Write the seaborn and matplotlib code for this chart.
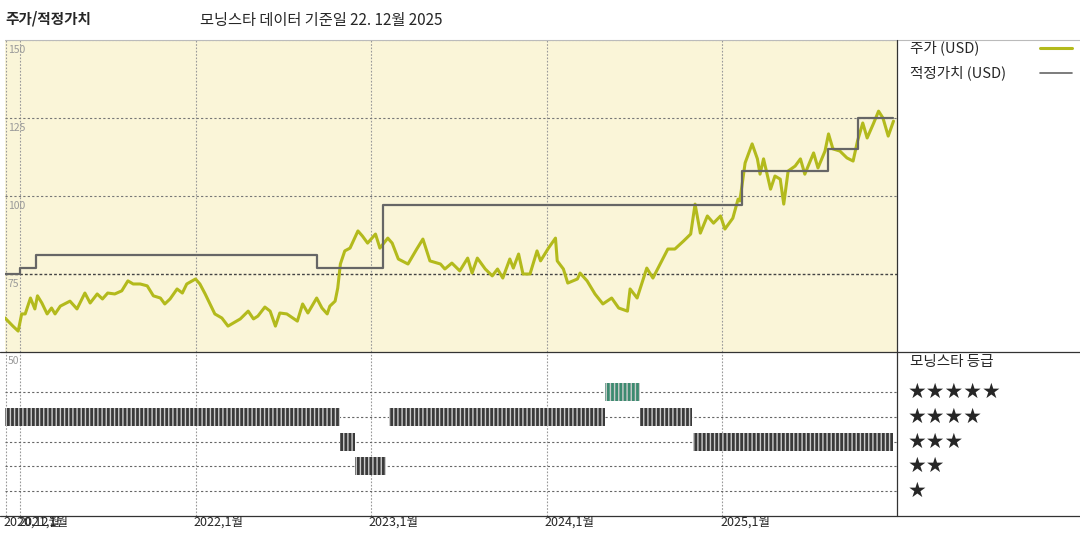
import matplotlib
matplotlib.use("Agg")
import matplotlib.pyplot as plt
import seaborn as sns
import pandas as pd
import numpy as np
from matplotlib.lines import Line2D
import matplotlib.transforms as mtrans

sns.set_style("white")
plt.rcParams['font.family'] = ['Noto Sans CJK KR', 'DejaVu Sans']

price_t = [2020.915,2020.96,2020.99,2021.01,2021.03,2021.06,2021.085,2021.10,2021.125,2021.155,2021.18,2021.20,2021.23,2021.285,2021.325,2021.37,2021.40,2021.44,2021.47,2021.50,2021.54,2021.58,2021.615,2021.645,2021.685,2021.725,2021.76,2021.80,2021.825,2021.855,2021.895,2021.925,2021.95,2022.00,2022.025,2022.055,2022.08,2022.11,2022.15,2022.185,2022.215,2022.255,2022.30,2022.33,2022.355,2022.395,2022.425,2022.455,2022.48,2022.52,2022.58,2022.61,2022.64,2022.69,2022.72,2022.75,2022.765,2022.795,2022.81,2022.825,2022.85,2022.88,2022.925,2022.95,2022.98,2023.025,2023.05,2023.095,2023.12,2023.155,2023.21,2023.26,2023.295,2023.335,2023.395,2023.42,2023.46,2023.505,2023.55,2023.575,2023.605,2023.65,2023.69,2023.72,2023.75,2023.79,2023.81,2023.84,2023.865,2023.905,2023.945,2023.965,2024.01,2024.05,2024.06,2024.095,2024.12,2024.175,2024.19,2024.23,2024.275,2024.32,2024.37,2024.41,2024.46,2024.475,2024.515,2024.57,2024.605,2024.655,2024.69,2024.73,2024.78,2024.82,2024.845,2024.875,2024.915,2024.95,2024.99,2025.015,2025.06,2025.09,2025.10,2025.13,2025.17,2025.20,2025.215,2025.235,2025.275,2025.30,2025.33,2025.35,2025.375,2025.415,2025.445,2025.47,2025.52,2025.545,2025.585,2025.605,2025.63,2025.67,2025.71,2025.745,2025.77,2025.80,2025.825,2025.86,2025.89,2025.915,2025.945,2025.975]
price_v = [60.9,58.3,56.7,62.2,62.2,67.3,63.8,68.0,65.7,62.2,64.1,62.2,64.7,66.3,63.8,68.9,65.7,68.6,67.0,68.9,68.6,69.6,72.8,71.8,71.8,71.2,68.0,67.3,65.4,67.0,70.2,68.9,71.8,73.4,71.8,68.6,65.7,62.2,60.9,58.3,59.3,60.6,63.1,60.6,61.5,64.4,63.1,58.3,62.5,62.2,59.9,65.4,62.5,67.3,64.1,62.2,64.7,66.3,70.5,78.2,82.4,83.3,88.8,87.2,84.9,87.8,83.3,86.5,84.9,79.8,78.2,83.0,86.2,79.2,78.2,76.6,78.5,76.0,80.1,75.3,80.1,76.6,74.4,76.6,73.7,79.8,76.9,81.4,75.0,75.0,82.4,79.2,83.3,86.5,79.2,76.6,72.1,73.4,75.3,72.8,68.6,65.4,67.3,64.1,63.1,70.2,67.3,76.9,73.7,79.2,83.0,83.0,85.6,87.8,97.4,88.1,93.6,91.3,93.6,89.4,92.9,99.0,98.4,110.6,116.7,111.9,107.0,111.9,102.2,106.4,105.4,97.4,108.0,109.6,111.9,107.0,113.8,109.0,114.4,119.9,115.1,114.4,112.2,111.2,117.6,123.4,118.6,123.1,127.2,125.0,119.2,124.0]

fv_t = [2020.915,2021.0,2021.09,2022.69,2023.07,2025.11,2025.60,2025.775,2025.975]
fv_v = [75.1,77,81,77,97,108,115,125,125]

rating_start = [2020.915,2022.825,2022.91,2023.088,2023.10,2024.33,2024.53,2024.835]
rating_end   = [2022.825,2022.91,2023.085,2023.092,2024.33,2024.53,2024.83,2025.975]
rating_star  = [4,3,2,3,4,5,4,3]

year_ticks = [2022,2023,2024,2025]
year_labels = ["2022,1월","2023,1월","2024,1월","2025,1월"]

W, H = 1080, 540
fig = plt.figure(figsize=(10.8,5.4), dpi=100)
L, R = 5/W, 897/W
ax = fig.add_axes([L, 1-352/H, R-L, (352-40)/H])
ax2 = fig.add_axes([L, 1-516/H, R-L, (516-352)/H])
xmin, xmax = 2020.915, 2025.995
ax.set_facecolor('#faf5d8')
for a in (ax, ax2):
    a.set_xlim(xmin, xmax)
    a.set_xticks([]); a.set_yticks([])
    for s in a.spines.values():
        s.set_visible(False)
    for xt in [2021.0]+year_ticks:
        a.axvline(xt, color='#999999', ls=(0,(1.5,1.5)), lw=0.8)
    a.axvline(xmin+0.003, color='#999999', ls=(0,(1.5,1.5)), lw=0.8)
ax.set_ylim(50,150)
for yv in [100,125]:
    ax.axhline(yv, color='#777777', ls=(0,(2,2)), lw=0.8)
ax.axhline(75, color='#444444', ls=(0,(2,1.5)), lw=1.0)
ax.axhline(150, color='#999999', ls=(0,(1.5,1.5)), lw=0.8)

df = pd.DataFrame({'t':price_t,'v':price_v})
sns.lineplot(data=df, x='t', y='v', ax=ax, color='#b3ba1c', lw=2.2)
ax.step(fv_t, fv_v, where='post', color='#666666', lw=1.6)
ax.set_xlabel(''); ax.set_ylabel('')
tr = mtrans.blended_transform_factory(ax.transAxes, ax.transData)
for yv, lab in [(150,'150'),(125,'125'),(100,'100'),(75,'75')]:
    ax.text(0.003, yv-1.5, lab, transform=tr, fontsize=7.5, color='#999999', va='top', ha='left')

ax2.set_ylim(0, 6.62)
for r in [1,2,3,4,5]:
    ax2.axhline(r, color='#666666', ls=(0,(2,2)), lw=0.8)
for s0, s1, st in zip(rating_start, rating_end, rating_star):
    col = '#3d8a70' if st == 5 else '#3a3a3a'
    ax2.barh(st, s1-s0, left=s0, height=0.73, color=col, edgecolor='#cccccc',
             hatch='||||', lw=0, zorder=3)
ax2.text(0.003, 6.45, '50', transform=ax2.get_yaxis_transform(), fontsize=7.5, color='#999999', va='top')

# frame lines
def fl(x0,y0,x1,y1,c='#333333',lw=0.9):
    fig.add_artist(Line2D([x0/W,x1/W],[1-y0/H,1-y1/H], color=c, lw=lw))
fl(5,40,1080,40,'#bbbbbb',0.8)
fl(0,352,1080,352,'#333333',0.9)
fl(897,40,897,516)
fl(0,516,1080,516)

fig.text(5/W, 1-18/H, '주가/적정가치', fontsize=10.5, fontweight='bold', va='center')
fig.text(200/W, 1-20/H, '모닝스타 데이터 기준일 22. 12월 2025', fontsize=11, va='center')
fig.text(910/W, 1-48/H, '주가 (USD)', fontsize=10.5, va='center')
fig.text(910/W, 1-73/H, '적정가치 (USD)', fontsize=10.5, va='center')
fl(1040,48,1072,48,'#b3ba1c',2.2)
fl(1040,73,1072,73,'#666666',1.2)
fig.text(910/W, 1-362/H, '모닝스타 등급', fontsize=10.5, va='center')
for i, n in enumerate([5,4,3,2,1]):
    fig.text(908/W, 1-(392+i*24.75)/H, '★'*n, fontsize=15, va='center', family=['DejaVu Sans'])

fig.text(3/W, 1-522/H, '2020,12월', fontsize=9, va='center')
fig.text(18/W, 1-522/H, '2021,1월', fontsize=9, va='center')
for xt, lab in zip(year_ticks, year_labels):
    xf = L + (xt-xmin)/(xmax-xmin)*(R-L)
    fig.text(xf-0.002, 1-522/H, lab, fontsize=9, va='center')

fig.savefig('out.png', dpi=100)
